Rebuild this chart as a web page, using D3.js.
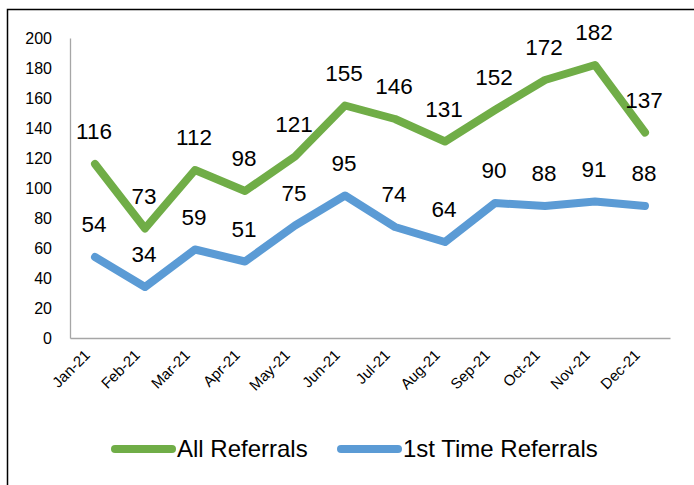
<!DOCTYPE html>
<html>
<head>
<meta charset="utf-8">
<script src="https://cdn.jsdelivr.net/npm/d3@7"></script>
<style>
  body { margin: 0; background: #fff; }
  text { font-family: "Liberation Sans", Arial, sans-serif; fill: #000; }
</style>
</head>
<body>
<div id="app"></div>
<script>
// monthly referrals, 2021
const months = ['Jan-21', 'Feb-21', 'Mar-21', 'Apr-21', 'May-21', 'Jun-21',
  'Jul-21', 'Aug-21', 'Sep-21', 'Oct-21', 'Nov-21', 'Dec-21'];
const allReferrals = [116, 73, 112, 98, 121, 155, 146, 131, 152, 172, 182, 137];
const firstTimeReferrals = [54, 34, 59, 51, 75, 95, 74, 64, 90, 88, 91, 88];
const yTicks = [0, 20, 40, 60, 80, 100, 120, 140, 160, 180, 200];

const series = [
  { name: 'All Referrals', values: allReferrals, color: '#70ad47' },
  { name: '1st Time Referrals', values: firstTimeReferrals, color: '#5b9bd5' }
];

let width = 694;
let height = 485;

const svg = d3.create('svg').attr('width', width).attr('height', height);

// frame around the chart (runs off the right and bottom edge)
svg.append('rect')
  .attr('x', 7.5).attr('y', 9.5)
  .attr('width', 720).attr('height', 520)
  .attr('fill', 'none').attr('stroke', '#000').attr('stroke-width', 1.5);

const x = d3.scaleBand().domain(months).range([70, 670]);
const y = d3.scaleLinear().domain([0, 200]).range([338, 38]);

// y axis
const yAxis = svg.append('g').attr('transform', 'translate(70,0)')
  .call(d3.axisLeft(y).tickValues(yTicks).tickSize(0).tickPadding(18));
yAxis.select('.domain').attr('stroke', '#a6a6a6').attr('stroke-width', 1.3);
yAxis.selectAll('text').style('font-size', '16px').attr('dy', '0.35em');

// x axis
const xAxis = svg.append('g').attr('transform', 'translate(0,338)')
  .call(d3.axisBottom(x).tickSize(0).tickPadding(0));
xAxis.select('.domain').attr('stroke', '#a6a6a6').attr('stroke-width', 1.3);
xAxis.selectAll('text')
  .style('font-size', '15px')
  .attr('text-anchor', 'end')
  .attr('dy', 0)
  .attr('transform', 'translate(-4,18) rotate(-45)');

const line = d3.line()
  .x((d, i) => x(months[i]) + x.bandwidth() / 2)
  .y((d) => y(d));

const plot = svg.append('g');

series.forEach((s) => {
  plot.append('path')
    .datum(s.values)
    .attr('d', line)
    .attr('fill', 'none')
    .attr('stroke', s.color)
    .attr('stroke-width', 8)
    .attr('stroke-linejoin', 'round')
    .attr('stroke-linecap', 'round');
});

// data labels above each point
series.forEach((s) => {
  plot.append('g').selectAll('text')
    .data(s.values)
    .join('text')
    .attr('x', (d, i) => x(months[i]) + x.bandwidth() / 2 - 1)
    .attr('y', (d) => y(d) - 25)
    .attr('text-anchor', 'middle')
    .style('font-size', '22.5px')
    .text((d) => d);
});

// legend
const legend = svg.append('g');
const legendX = [115, 341];
series.forEach((s, i) => {
  const g = legend.append('g').attr('transform', `translate(${legendX[i]},449)`);
  g.append('line')
    .attr('x1', 0).attr('x2', 57)
    .attr('stroke', s.color).attr('stroke-width', 8).attr('stroke-linecap', 'round');
  g.append('text')
    .attr('x', 62).attr('y', 8)
    .style('font-size', '24px')
    .text(s.name);
});

document.getElementById('app').append(svg.node());
</script>
</body>
</html>
